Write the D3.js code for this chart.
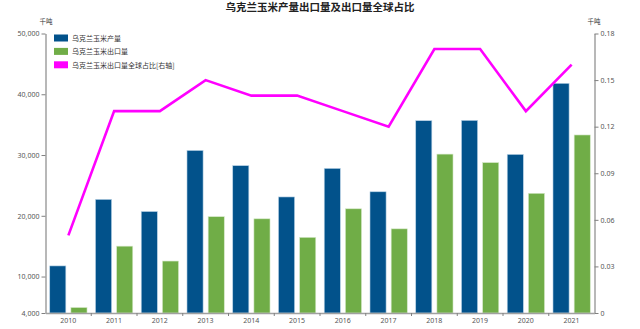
<!DOCTYPE html>
<html><head><meta charset="utf-8">
<script src="https://cdn.jsdelivr.net/npm/d3@7"></script>
<style>
html,body{margin:0;padding:0;background:#fff;}
svg{display:block;font-family:"Noto Sans CJK SC","Noto Sans",sans-serif;}
</style></head>
<body><svg id="c" width="640" height="329"></svg>
<script>
const years = ["2010","2011","2012","2013","2014","2015","2016","2017","2018","2019","2020","2021"];
const production = [11750, 22700, 20700, 30750, 28250, 23100, 27800, 23950, 35650, 35700, 30100, 41800];
const exports_ = [4900, 15000, 12550, 19850, 19500, 16450, 21150, 17850, 30150, 28750, 23700, 33300];
const share = [0.05, 0.13, 0.13, 0.15, 0.14, 0.14, 0.13, 0.12, 0.17, 0.17, 0.13, 0.16];
const leftTicks = [4000, 10000, 20000, 30000, 40000, 50000];
const rightTicks = [0, 0.03, 0.06, 0.09, 0.12, 0.15, 0.18];
const seriesNames = ["乌克兰玉米产量", "乌克兰玉米出口量", "乌克兰玉米出口量全球占比[右轴]"];
const title = "乌克兰玉米产量出口量及出口量全球占比";
const unitLabel = "千吨";

const colors = {prod:"#02528b", exp:"#70ad47", line:"#ff00ff"};
const svg = d3.select("#c");
const L = 45.5, R = 594.5, T = 33.5, B = 313;

const x = d3.scaleBand().domain(years).range([L, R]).padding(0);
const x1 = d3.scaleBand().domain(["prod","exp"]).range([0, x.bandwidth()]).paddingInner(0.24).paddingOuter(0.2);
const yL = d3.scaleLinear().domain([4000, 50000]).range([B, T]);
const yR = d3.scaleLinear().domain([0, 0.18]).range([B, T]);

// title
svg.append("text").attr("x", 320).attr("y", 11).attr("text-anchor","middle")
  .attr("font-size", 10.5).attr("font-weight","bold").attr("fill","#222").text(title);
// units
svg.append("text").attr("x", 46).attr("y", 24).attr("text-anchor","middle")
  .attr("font-size", 6.5).attr("fill","#333").text(unitLabel);
svg.append("text").attr("x", 594).attr("y", 24).attr("text-anchor","middle")
  .attr("font-size", 6.5).attr("fill","#333").text(unitLabel);

// bars
const g = svg.append("g");
years.forEach((yr, i) => {
  g.append("rect").attr("x", x(yr) + x1("prod")).attr("width", x1.bandwidth())
    .attr("y", yL(production[i])).attr("height", B - yL(production[i]))
    .attr("fill", colors.prod).attr("stroke","#b9d3e6").attr("stroke-width",0.6);
  g.append("rect").attr("x", x(yr) + x1("exp")).attr("width", x1.bandwidth())
    .attr("y", yL(exports_[i])).attr("height", B - yL(exports_[i]))
    .attr("fill", colors.exp).attr("stroke","#d5e8c8").attr("stroke-width",0.6);
});

// line
const line = d3.line().x((d,i) => x(years[i]) + x.bandwidth()/2).y(d => yR(d));
svg.append("path").datum(share).attr("d", line).attr("fill","none")
  .attr("stroke", colors.line).attr("stroke-width", 2.6).attr("stroke-linejoin","miter");

// axes
function styleAxis(sel){
  sel.selectAll(".domain").attr("stroke","#a0a0a0").attr("stroke-width",1.5);
  sel.selectAll(".tick line").attr("stroke","#808080");
  sel.selectAll(".tick text").attr("fill","#555").attr("font-size",7)
    .attr("font-family","'Noto Sans','DejaVu Sans',sans-serif");
}
const axL = svg.append("g").attr("transform",`translate(${L},0)`)
  .call(d3.axisLeft(yL).tickValues(leftTicks).tickFormat(d3.format(",")).tickSize(4).tickSizeOuter(0).tickPadding(2));
styleAxis(axL);
const axR = svg.append("g").attr("transform",`translate(${R},0)`)
  .call(d3.axisRight(yR).tickValues(rightTicks).tickFormat(d => d === 0 ? "0" : d3.format(".2f")(d)).tickSize(4).tickSizeOuter(0).tickPadding(2));
styleAxis(axR);
const axB = svg.append("g").attr("transform",`translate(0,${B})`)
  .call(d3.axisBottom(x).tickSize(0).tickSizeOuter(0).tickPadding(5));
styleAxis(axB);
// boundary ticks between categories
axB.selectAll("line.bt").data(years.slice(1)).enter().append("line").attr("class","bt")
  .attr("x1", d => x(d)).attr("x2", d => x(d)).attr("y1", 0).attr("y2", 3)
  .attr("stroke","#808080");

// legend
const leg = svg.append("g");
const legItems = [
  {name: seriesNames[0], color: colors.prod},
  {name: seriesNames[1], color: colors.exp},
  {name: seriesNames[2], color: colors.line}
];
legItems.forEach((it, i) => {
  const cy = 38 + i * 13.4;
  leg.append("rect").attr("x", 54).attr("y", cy - 3.5).attr("width", 14).attr("height", 7).attr("fill", it.color);
  leg.append("text").attr("x", 72).attr("y", cy).attr("dominant-baseline","central")
    .attr("font-size", 7).attr("fill","#333").text(it.name);
});
</script></body></html>
